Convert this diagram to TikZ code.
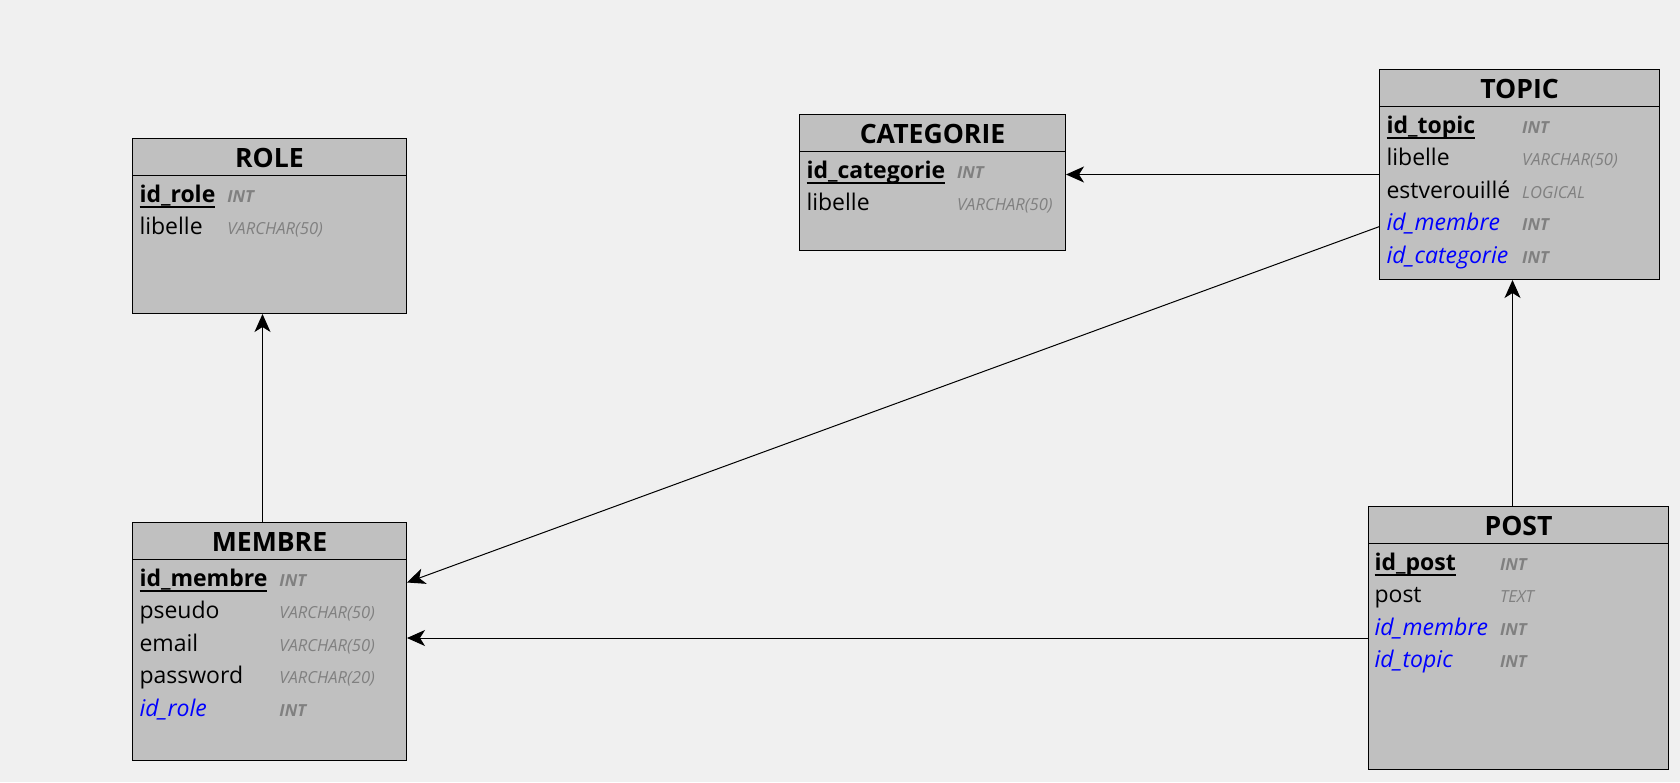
\documentclass[tikz,border=0pt]{standalone}
\usepackage{fontspec}
\setmainfont{Open Sans}
\usetikzlibrary{matrix,arrows.meta}

\definecolor{paper}{HTML}{F0F0F0}
\definecolor{tabfill}{HTML}{C0C0C0}
\definecolor{fkblue}{HTML}{0000FF}
\definecolor{typegray}{HTML}{808080}

\newsavebox\pkbox
\newcommand\pkname[1]{\sbox\pkbox{\bfseries #1}\rlap{\rule[-5pt]{\wd\pkbox}{1.5pt}}\usebox\pkbox}
\newcommand\fkname[1]{{\color{fkblue}\itshape #1}}
\newcommand\keytype[1]{{\color{typegray}\bfseries\itshape\fontsize{16.6}{19}\selectfont #1}}
\newcommand\coltype[1]{{\color{typegray}\itshape\fontsize{16.6}{19}\selectfont #1}}

\tikzset{
  tabbox/.style={draw=black, fill=tabfill, inner sep=0pt, anchor=north west},
  tabtitle/.style={font=\bfseries\fontsize{26.6}{30}\selectfont, anchor=base, inner sep=0pt},
  tabrows/.style={matrix of nodes, column sep=12pt, inner sep=0pt, anchor=north west,
    nodes={anchor=base west, inner sep=0pt, text height=23pt, text depth=9.4pt,
      font=\fontsize{23}{28}\selectfont}},
}

\begin{document}
\begin{tikzpicture}[x=1pt, y=-1pt, line width=1pt, >={Stealth[length=18pt,width=16pt,inset=5pt]}]
  \fill[paper] (0,0) rectangle (1680,782);

  % ROLE
  \node[tabbox, minimum width=274pt, minimum height=175pt] (role) at (132,138) {};
  \node[tabtitle] (role-t) at ([yshift=-29pt]role.north) {ROLE};
  \draw ([yshift=-37pt]role.north west) -- ([yshift=-37pt]role.north east);
  \matrix (m-role) [tabrows] at ([xshift=7pt,yshift=-41pt]role.north west)
  {
    \pkname{id\_role} & \keytype{INT} \\
    libelle & \coltype{VARCHAR(50)} \\
  };

  % CATEGORIE
  \node[tabbox, minimum width=266pt, minimum height=136pt] (categorie) at (799,114) {};
  \node[tabtitle] (categorie-t) at ([yshift=-29pt]categorie.north) {CATEGORIE};
  \draw ([yshift=-37pt]categorie.north west) -- ([yshift=-37pt]categorie.north east);
  \matrix (m-categorie) [tabrows] at ([xshift=7pt,yshift=-41pt]categorie.north west)
  {
    \pkname{id\_categorie} & \keytype{INT} \\
    libelle & \coltype{VARCHAR(50)} \\
  };

  % TOPIC
  \node[tabbox, minimum width=280pt, minimum height=210pt] (topic) at (1379,69) {};
  \node[tabtitle] (topic-t) at ([yshift=-29pt]topic.north) {TOPIC};
  \draw ([yshift=-37pt]topic.north west) -- ([yshift=-37pt]topic.north east);
  \matrix (m-topic) [tabrows] at ([xshift=7pt,yshift=-41pt]topic.north west)
  {
    \pkname{id\_topic} & \keytype{INT} \\
    libelle & \coltype{VARCHAR(50)} \\
    estverouillé & \coltype{LOGICAL} \\
    \fkname{id\_membre} & \keytype{INT} \\
    \fkname{id\_categorie} & \keytype{INT} \\
  };

  % MEMBRE
  \node[tabbox, minimum width=274pt, minimum height=238pt] (membre) at (132,522) {};
  \node[tabtitle] (membre-t) at ([yshift=-29pt]membre.north) {MEMBRE};
  \draw ([yshift=-37pt]membre.north west) -- ([yshift=-37pt]membre.north east);
  \matrix (m-membre) [tabrows] at ([xshift=7pt,yshift=-41pt]membre.north west)
  {
    \pkname{id\_membre} & \keytype{INT} \\
    pseudo & \coltype{VARCHAR(50)} \\
    email & \coltype{VARCHAR(50)} \\
    password & \coltype{VARCHAR(20)} \\
    \fkname{id\_role} & \keytype{INT} \\
  };

  % POST
  \node[tabbox, minimum width=300pt, minimum height=263pt] (post) at (1368,506) {};
  \node[tabtitle] (post-t) at ([yshift=-29pt]post.north) {POST};
  \draw ([yshift=-37pt]post.north west) -- ([yshift=-37pt]post.north east);
  \matrix (m-post) [tabrows] at ([xshift=6pt,yshift=-41pt]post.north west)
  {
    \pkname{id\_post} & \keytype{INT} \\
    post & \coltype{TEXT} \\
    \fkname{id\_membre} & \keytype{INT} \\
    \fkname{id\_topic} & \keytype{INT} \\
  };

  % references
  \path[->]
    ([xshift=-7pt]membre.north) edge ([xshift=-7pt]role.south)
    (topic.west) edge (topic.west -| categorie.east)
    ([yshift=4pt]topic.west |- m-topic-4-1.base) edge ([yshift=4pt]membre.east |- m-membre-1-1.base)
    (post.west) edge (post.west -| membre.east)
    ([xshift=-6pt]post.north) edge ([xshift=-6pt]post.north |- topic.south)
  ;
\end{tikzpicture}
\end{document}
